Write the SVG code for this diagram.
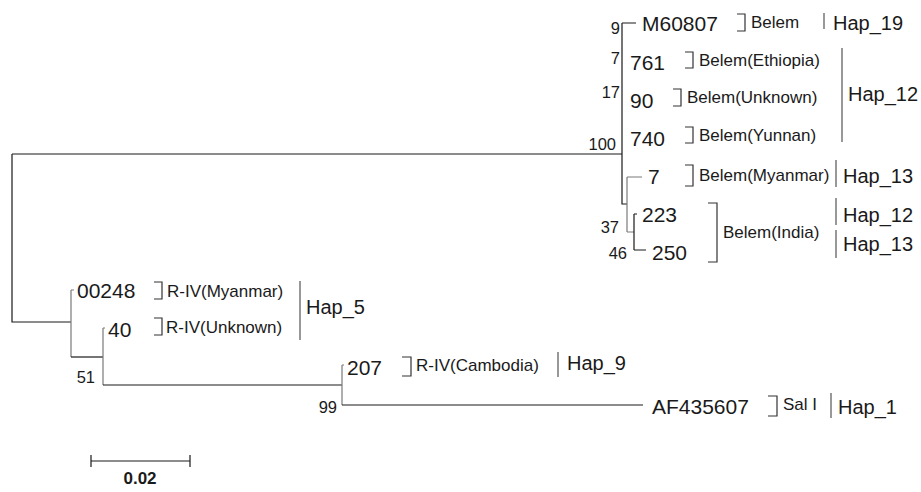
<svg xmlns="http://www.w3.org/2000/svg" width="921" height="492" viewBox="0 0 921 492">
<style>
text{font-family:"Liberation Sans",Arial,sans-serif;fill:#1a1a1a}
.leaf{font-size:21px}
.boot{font-size:16.5px;text-anchor:end}
.lab{font-size:17px}
.hap{font-size:20px}
.br{fill:none;stroke:#333;stroke-width:1.2}
.hl{fill:none;stroke:#555;stroke-width:1.2}
.e{fill:none;stroke:#1a1a1a;stroke-width:1.2}
.g{fill:none;stroke:#7a7a7a;stroke-width:1.2}
.scale{font-size:17px;font-weight:bold;text-anchor:middle}
</style>
<rect width="921" height="492" fill="#fff"/>
<g id="connectors">
<path class="e" d="M12 154 H622 M12 154 V322 H71"/>
<path class="e" d="M622 23 V204 H627 M622 23 H636"/>
<path class="g" d="M627 177 V232 M627 177 H642 M627 232 H634"/>
<path class="e" d="M634 214 V250 M634 214 H637 M634 250 H646"/>
<path class="g" d="M71 290 V357 M71 290 H74"/>
<path class="e" d="M71 357 H103"/>
<path class="g" d="M103 328 V385 M103 328 H105"/>
<path class="e" d="M103 385 H342"/>
<path class="g" d="M342 365 V405 M342 365 H344"/>
<path class="e" d="M342 405 H643"/>
</g>
<g id="bootstrap">
<text class="boot" x="620" y="34">9</text>
<text class="boot" x="620" y="64">7</text>
<text class="boot" x="620" y="98">17</text>
<text class="boot" x="616" y="150">100</text>
<text class="boot" x="619" y="233">37</text>
<text class="boot" x="627" y="259">46</text>
<text class="boot" x="95" y="383">51</text>
<text class="boot" x="337" y="413">99</text>
</g>
<g id="M60807"><text class="leaf" x="642" y="31">M60807</text><path class="br" d="M737 14 H745 V31 H737"/><text class="lab" x="751" y="28">Belem</text></g>
<g id="n761"><text class="leaf" x="630" y="70">761</text><path class="br" d="M685 52 H693 V68 H685"/><text class="lab" x="699" y="66">Belem(Ethiopia)</text></g>
<g id="n90"><text class="leaf" x="630" y="108">90</text><path class="br" d="M673 89 H681 V106 H673"/><text class="lab" x="687" y="103">Belem(Unknown)</text></g>
<g id="n740"><text class="leaf" x="630" y="146">740</text><path class="br" d="M685 127 H693 V143 H685"/><text class="lab" x="699" y="141">Belem(Yunnan)</text></g>
<g id="n7"><text class="leaf" x="648" y="184">7</text><path class="br" d="M685 165 H693 V186 H685"/><text class="lab" x="699" y="181">Belem(Myanmar)</text></g>
<g id="n223"><text class="leaf" x="642" y="222">223</text></g>
<g id="n250"><text class="leaf" x="652" y="260">250</text></g>
<g id="india"><path class="br" d="M708 203 H717 V262 H708"/><text class="lab" x="723" y="238">Belem(India)</text></g>
<g id="n00248"><text class="leaf" x="77" y="298">00248</text><path class="br" d="M154 282 H162 V299 H154"/><text class="lab" x="167" y="297">R-IV(Myanmar)</text></g>
<g id="n40"><text class="leaf" x="108" y="337">40</text><path class="br" d="M154 318 H162 V335 H154"/><text class="lab" x="166" y="333">R-IV(Unknown)</text></g>
<g id="n207"><text class="leaf" x="347" y="375">207</text><path class="br" d="M402 357 H411 V376 H402"/><text class="lab" x="416" y="371">R-IV(Cambodia)</text></g>
<g id="AF435607"><text class="leaf" x="652" y="414">AF435607</text><path class="br" d="M768 396 H777 V416 H768"/><text class="lab" x="783" y="410">Sal I</text></g>
<g id="haplotypes">
<path class="hl" d="M824 13 V29 M842 48 V142 M836 160 V187 M836 198 V225 M836 230 V258 M300 281 V340 M558 352 V377 M831 393 V418"/>
<text class="hap" x="833" y="30">Hap_19</text>
<text class="hap" x="848" y="101">Hap_12</text>
<text class="hap" x="843" y="183">Hap_13</text>
<text class="hap" x="843" y="222">Hap_12</text>
<text class="hap" x="843" y="251">Hap_13</text>
<text class="hap" x="306" y="314">Hap_5</text>
<text class="hap" x="567" y="370">Hap_9</text>
<text class="hap" x="838" y="414">Hap_1</text>
</g>
<g id="scalebar">
<path class="e" d="M91 461 H190 M91 455 V467 M190 455 V467"/>
<text class="scale" x="140" y="484">0.02</text>
</g>
</svg>
